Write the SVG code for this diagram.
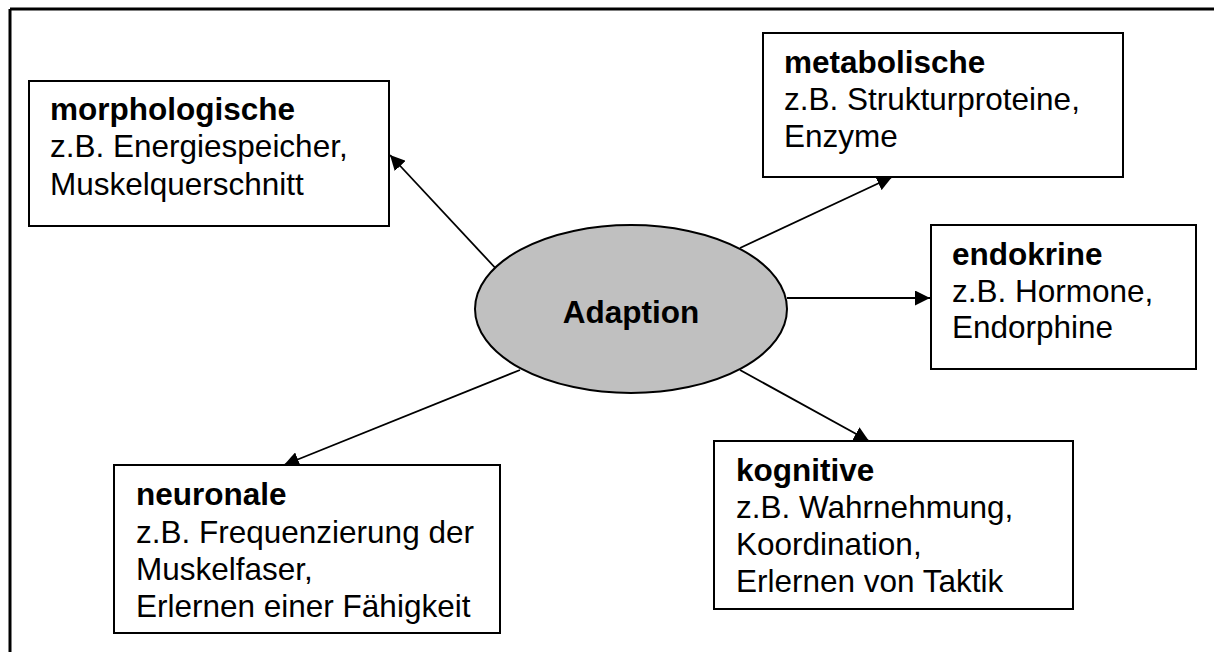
<svg xmlns="http://www.w3.org/2000/svg" width="1226" height="652" viewBox="0 0 1226 652">
  <style>
    .box { fill: #ffffff; stroke: #000000; stroke-width: 2; }
    .t { font-family: "Liberation Sans", Arial, sans-serif; font-size: 31.5px; fill: #000000; }
    .b { font-weight: bold; }
    .conn { stroke: #000000; stroke-width: 1.8; fill: none; marker-end: url(#arrow); }
  </style>
  <defs>
    <marker id="arrow" markerUnits="userSpaceOnUse" markerWidth="15" markerHeight="15" refX="15" refY="7.5" orient="auto">
      <path d="M0,0 L15,7.5 L0,15 z" fill="#000000"/>
    </marker>
  </defs>
  <rect width="1226" height="652" fill="#ffffff"/>
  <g id="frame" stroke="#000000" stroke-width="3" fill="none">
    <line x1="10" y1="9" x2="1214" y2="9"/>
    <line x1="10" y1="9" x2="10" y2="652"/>
  </g>
  <g id="connectors">
    <line class="conn" x1="500" y1="273" x2="390" y2="155"/>
    <line class="conn" x1="740" y1="248" x2="892" y2="177"/>
    <line class="conn" x1="787" y1="298" x2="930" y2="298"/>
    <line class="conn" x1="740" y1="370" x2="869" y2="441"/>
    <line class="conn" x1="520" y1="370" x2="284" y2="465"/>
  </g>
  <g id="adaption">
    <ellipse cx="631" cy="309" rx="156" ry="84" fill="#c0c0c0" stroke="#000000" stroke-width="2"/>
    <text class="t b" x="631" y="323" text-anchor="middle">Adaption</text>
  </g>
  <g id="morphologische">
    <rect class="box" x="29" y="81" width="360" height="145"/>
    <text class="t" x="50" y="120"><tspan class="b">morphologische</tspan><tspan x="50" y="157">z.B. Energiespeicher,</tspan><tspan x="50" y="195">Muskelquerschnitt</tspan></text>
  </g>
  <g id="metabolische">
    <rect class="box" x="763" y="33" width="360" height="144"/>
    <text class="t" x="784" y="73"><tspan class="b">metabolische</tspan><tspan x="784" y="110">z.B. Strukturproteine,</tspan><tspan x="784" y="147">Enzyme</tspan></text>
  </g>
  <g id="endokrine">
    <rect class="box" x="931" y="225" width="265" height="144"/>
    <text class="t" x="952" y="265"><tspan class="b">endokrine</tspan><tspan x="952" y="302">z.B. Hormone,</tspan><tspan x="952" y="338">Endorphine</tspan></text>
  </g>
  <g id="kognitive">
    <rect class="box" x="714" y="441" width="359" height="168"/>
    <text class="t" x="736" y="481"><tspan class="b">kognitive</tspan><tspan x="736" y="518">z.B. Wahrnehmung,</tspan><tspan x="736" y="555">Koordination,</tspan><tspan x="736" y="592">Erlernen von Taktik</tspan></text>
  </g>
  <g id="neuronale">
    <rect class="box" x="114" y="465" width="386" height="168"/>
    <text class="t" x="136" y="505"><tspan class="b">neuronale</tspan><tspan x="136" y="543">z.B. Frequenzierung der</tspan><tspan x="136" y="580">Muskelfaser,</tspan><tspan x="136" y="617">Erlernen einer Fähigkeit</tspan></text>
  </g>
</svg>
